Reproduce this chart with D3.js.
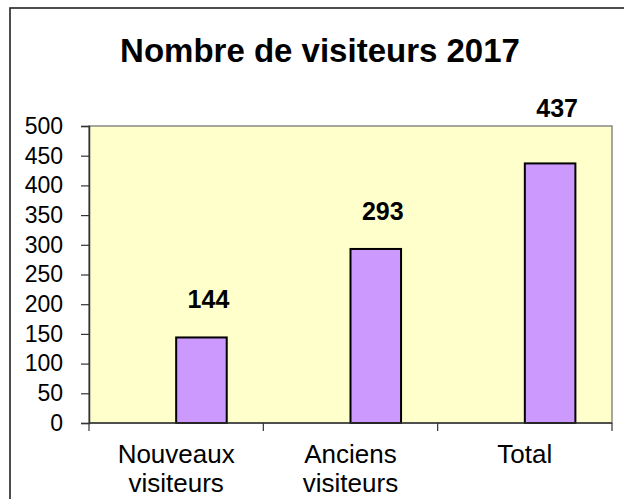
<!DOCTYPE html>
<html>
<head>
<meta charset="utf-8">
<script src="https://cdn.jsdelivr.net/npm/d3@7"></script>
<style>
  html, body { margin: 0; padding: 0; background: #fff; }
  svg { display: block; font-family: Arial, "Liberation Sans", sans-serif; }
</style>
</head>
<body>
<svg id="chart" width="624" height="499"></svg>
<script>
const title = "Nombre de visiteurs 2017";
const categories = [["Nouveaux", "visiteurs"], ["Anciens", "visiteurs"], ["Total"]];
const categoryKeys = ["Nouveaux visiteurs", "Anciens visiteurs", "Total"];
const values = [144, 293, 437];
const yTicks = [0, 50, 100, 150, 200, 250, 300, 350, 400, 450, 500];

const svg = d3.select("#chart");
const plot = { left: 89, right: 612, top: 126, bottom: 423 };

// outer frame (extends past right/bottom of window)
svg.append("rect")
  .attr("x", 10).attr("y", 8)
  .attr("width", 640).attr("height", 520)
  .attr("fill", "#fff").attr("stroke", "#222").attr("stroke-width", 1.6);

svg.append("text")
  .attr("x", 320).attr("y", 62)
  .attr("text-anchor", "middle")
  .attr("font-weight", "bold").attr("font-size", 33)
  .text(title);

const x = d3.scaleBand().domain(categoryKeys).range([plot.left, plot.right]).padding(0);
const y = d3.scaleLinear().domain([0, 500]).range([plot.bottom, plot.top]);

svg.append("rect")
  .attr("x", plot.left).attr("y", plot.top)
  .attr("width", plot.right - plot.left).attr("height", plot.bottom - plot.top)
  .attr("fill", "#FFFFCC").attr("stroke", "#888").attr("stroke-width", 1.5);

const bw = x.bandwidth() * 0.29;
svg.selectAll("rect.bar").data(values).join("rect")
  .attr("class", "bar")
  .attr("x", (d, i) => x(categoryKeys[i]) + x.bandwidth() / 2)
  .attr("y", d => y(d))
  .attr("width", bw)
  .attr("height", d => y(0) - y(d))
  .attr("fill", "#CC99FF").attr("stroke", "#000").attr("stroke-width", 2);

// labels: above the bar, pushed outside the plot area if they would cross its top edge
svg.selectAll("text.val").data(values).join("text")
  .attr("class", "val")
  .attr("x", (d, i) => x(categoryKeys[i]) + x.bandwidth() / 2 + bw / 2 + 7)
  .attr("y", d => {
    const yy = y(d) - 29;
    return yy - 20 < plot.top ? Math.min(yy, plot.top - 9) : yy;
  })
  .attr("text-anchor", "middle")
  .attr("font-weight", "bold").attr("font-size", 25)
  .text(d => d);

// y axis
const yAxis = d3.axisLeft(y).tickValues(yTicks).tickSize(8).tickPadding(18).tickFormat(d3.format("d"));
const gy = svg.append("g").attr("transform", `translate(${plot.left},0)`).call(yAxis);
gy.select(".domain").attr("stroke", "#333").attr("stroke-width", 1.5);
gy.selectAll(".tick line").attr("stroke", "#333").attr("stroke-width", 1.2);
gy.selectAll(".tick text").attr("font-size", 23).attr("font-family", "Arial, 'Liberation Sans', sans-serif").attr("fill", "#000");

// x axis
const gx = svg.append("g").attr("transform", `translate(0,${plot.bottom})`);
gx.append("line").attr("x1", plot.left).attr("x2", plot.right).attr("stroke", "#333").attr("stroke-width", 1.5);
const bounds = categoryKeys.map(k => x(k)).concat([plot.right]);
gx.selectAll("line.tk").data(bounds).join("line")
  .attr("class", "tk")
  .attr("x1", d => d).attr("x2", d => d).attr("y1", 0).attr("y2", 8)
  .attr("stroke", "#333").attr("stroke-width", 1.2);
gx.selectAll("text.cat").data(categories).join("text")
  .attr("class", "cat")
  .attr("x", (d, i) => x(categoryKeys[i]) + x.bandwidth() / 2)
  .attr("y", 40)
  .attr("text-anchor", "middle")
  .attr("font-size", 26)
  .selectAll("tspan").data(d => d).join("tspan")
  .attr("x", function() { return d3.select(this.parentNode).attr("x"); })
  .attr("dy", (d, j) => j === 0 ? 0 : 29)
  .text(d => d);
</script>
</body>
</html>
